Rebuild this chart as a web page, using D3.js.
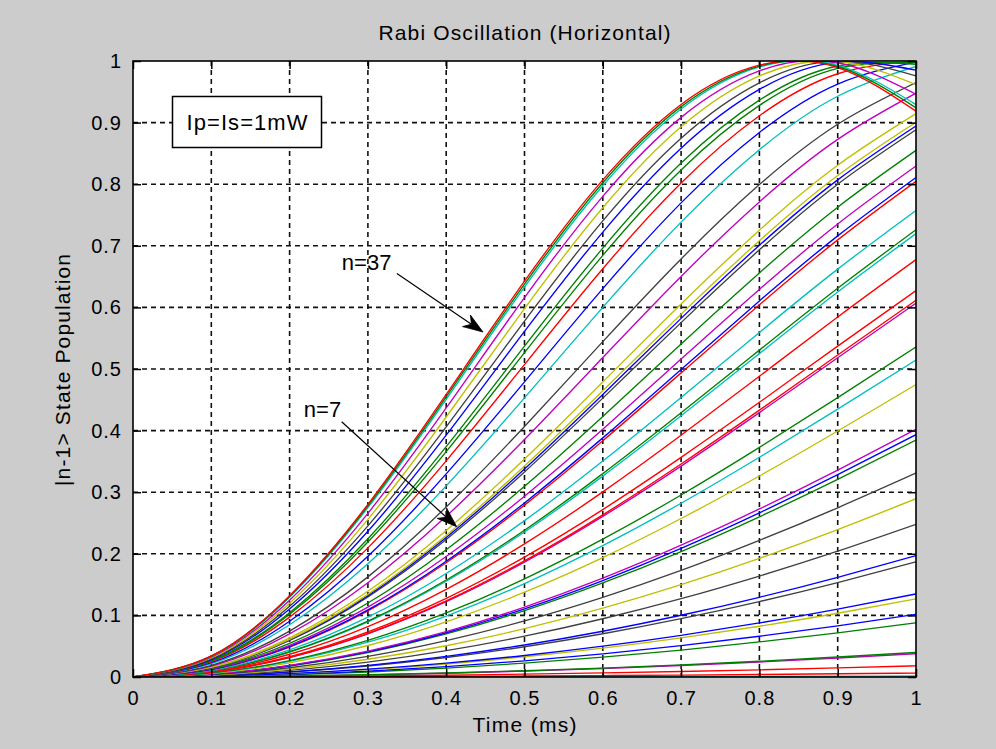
<!DOCTYPE html>
<html>
<head>
<meta charset="utf-8">
<script src="https://cdn.jsdelivr.net/npm/d3@7"></script>
<style>
  html, body { margin: 0; padding: 0; background: #cccccc; }
  svg { display: block; }
</style>
</head>
<body>
<svg id="chart" width="996" height="749"></svg>
<script>
// ---------- data ----------
const chartTitle = "Rabi Oscillation (Horizontal)";
const xAxisLabel = "Time (ms)";
const yAxisLabel = "|n-1> State Population";
const legendText = "Ip=Is=1mW";

const timeValues = [0, 0.1, 0.2, 0.3, 0.4, 0.5, 0.6, 0.7, 0.8, 0.9, 1.0];
const xTickValues = [0, 0.1, 0.2, 0.3, 0.4, 0.5, 0.6, 0.7, 0.8, 0.9, 1];
const xTickLabels = ["0", "0.1", "0.2", "0.3", "0.4", "0.5", "0.6", "0.7", "0.8", "0.9", "1"];
const yTickValues = [0, 0.1, 0.2, 0.3, 0.4, 0.5, 0.6, 0.7, 0.8, 0.9, 1];
const yTickLabels = ["0", "0.1", "0.2", "0.3", "0.4", "0.5", "0.6", "0.7", "0.8", "0.9", "1"];

// MATLAB colour codes of each curve
const seriesColors = ["c","r","r","m","g","g","b","y","b","k",
                      "b","k","y","k","g","b","m","y","c","g",
                      "m","r","r","r","c","g","c","r","b","m",
                      "g","k","b","y","y","m","k","c","b","r",
                      "g","g","b","k","y","m","c","g","r"];

// population of each curve at timeValues
const populationSeries = [
  [0,0,0.0001,0.0001,0.0003,0.0004,0.0006,0.0008,0.001,0.0013,0.0016],
  [0,0.0001,0.0003,0.0006,0.001,0.0016,0.0023,0.0031,0.0041,0.0052,0.0064],
  [0,0.0002,0.0007,0.0016,0.0029,0.0046,0.0066,0.0089,0.0116,0.0147,0.0181],
  [0,0.0004,0.0015,0.0035,0.0061,0.0096,0.0138,0.0187,0.0244,0.0308,0.0379],
  [0,0.0004,0.0016,0.0036,0.0065,0.0101,0.0145,0.0197,0.0256,0.0324,0.0399],
  [0,0.0009,0.0036,0.0081,0.0144,0.0225,0.0323,0.0437,0.0569,0.0716,0.0879],
  [0,0.0011,0.0042,0.0095,0.0168,0.0262,0.0376,0.0509,0.0661,0.0831,0.1019],
  [0,0.0013,0.0053,0.0119,0.0211,0.0328,0.0469,0.0635,0.0824,0.1035,0.1268],
  [0,0.0014,0.0056,0.0127,0.0225,0.0349,0.05,0.0677,0.0878,0.1102,0.1349],
  [0,0.002,0.008,0.0179,0.0316,0.0491,0.0702,0.0948,0.1225,0.1533,0.1869],
  [0,0.0021,0.0084,0.0189,0.0335,0.052,0.0743,0.1002,0.1294,0.1618,0.1971],
  [0,0.0027,0.0108,0.0242,0.0428,0.0663,0.0946,0.1272,0.1639,0.2042,0.2478],
  [0,0.0032,0.0128,0.0288,0.0507,0.0785,0.1117,0.1499,0.1926,0.2393,0.2894],
  [0,0.0038,0.015,0.0334,0.059,0.091,0.1293,0.1731,0.2218,0.2747,0.331],
  [0,0.0045,0.0178,0.0397,0.0699,0.1078,0.1527,0.2037,0.2601,0.3208,0.3846],
  [0,0.0046,0.0183,0.0408,0.0718,0.1106,0.1566,0.2088,0.2665,0.3284,0.3934],
  [0,0.0047,0.0188,0.0419,0.0736,0.1135,0.1605,0.214,0.2729,0.336,0.4022],
  [0,0.0058,0.0229,0.0511,0.0896,0.1376,0.1939,0.2573,0.3263,0.3993,0.4747],
  [0,0.0064,0.0254,0.0565,0.099,0.1516,0.2132,0.2821,0.3567,0.4348,0.5146],
  [0,0.0067,0.0267,0.0595,0.104,0.1593,0.2237,0.2955,0.3728,0.4536,0.5356],
  [0,0.008,0.0316,0.0701,0.1222,0.1865,0.2607,0.3424,0.4292,0.5183,0.6068],
  [0,0.008,0.0319,0.0708,0.1235,0.1885,0.2633,0.3458,0.4332,0.5228,0.6117],
  [0,0.0083,0.033,0.0733,0.1278,0.1947,0.2718,0.3565,0.4459,0.5372,0.6272],
  [0,0.0093,0.0369,0.0818,0.1423,0.2161,0.3005,0.3924,0.4882,0.5845,0.6776],
  [0,0.0102,0.0405,0.0896,0.1554,0.2353,0.3261,0.424,0.525,0.625,0.7198],
  [0,0.0104,0.041,0.0908,0.1574,0.2383,0.3301,0.4289,0.5306,0.6311,0.7261],
  [0,0.0111,0.044,0.0971,0.1681,0.2538,0.3506,0.4539,0.5593,0.6621,0.7575],
  [0,0.0123,0.0487,0.1074,0.1855,0.279,0.3835,0.4937,0.6042,0.7096,0.8047],
  [0,0.0125,0.0494,0.1089,0.188,0.2826,0.3882,0.4993,0.6105,0.7161,0.811],
  [0,0.0131,0.0515,0.1135,0.1955,0.2935,0.4022,0.5161,0.6291,0.7354,0.8295],
  [0,0.0139,0.0547,0.1201,0.2067,0.3095,0.4229,0.5406,0.656,0.7627,0.8549],
  [0,0.0151,0.0593,0.1301,0.2232,0.3329,0.4527,0.5753,0.6934,0.7999,0.8883],
  [0,0.0153,0.0603,0.1321,0.2265,0.3376,0.4587,0.5822,0.7008,0.807,0.8945],
  [0,0.0155,0.0612,0.1342,0.2298,0.3424,0.4647,0.5891,0.7081,0.8141,0.9006],
  [0,0.0161,0.0635,0.1391,0.238,0.3538,0.479,0.6056,0.7254,0.8307,0.9145],
  [0,0.0178,0.0701,0.1531,0.2608,0.3856,0.5186,0.6503,0.7712,0.8727,0.9477],
  [0,0.019,0.0746,0.1625,0.276,0.4067,0.5444,0.6786,0.7994,0.8974,0.9651],
  [0,0.0217,0.0848,0.1839,0.3103,0.4532,0.6001,0.7384,0.856,0.9428,0.9912],
  [0,0.0232,0.0906,0.196,0.3297,0.4791,0.6305,0.7697,0.884,0.9626,0.9983],
  [0,0.0249,0.0972,0.2096,0.3509,0.5071,0.6627,0.8019,0.9111,0.9793,0.9998],
  [0,0.0261,0.1018,0.2192,0.3658,0.5266,0.6845,0.8232,0.928,0.9881,0.9972],
  [0,0.0268,0.1044,0.2244,0.3739,0.5371,0.6962,0.8343,0.9365,0.9919,0.9945],
  [0,0.0284,0.1104,0.2365,0.3926,0.561,0.7223,0.8585,0.9539,0.9978,0.9851],
  [0,0.0295,0.1147,0.2453,0.406,0.5778,0.7405,0.8747,0.9646,0.9997,0.9758],
  [0,0.0309,0.1199,0.2559,0.4221,0.598,0.7617,0.8931,0.9757,0.9996,0.9616],
  [0,0.0322,0.1247,0.2657,0.4368,0.616,0.7803,0.9085,0.984,0.9971,0.9462],
  [0,0.0335,0.1294,0.2749,0.4507,0.633,0.7975,0.9221,0.9903,0.9929,0.9293],
  [0,0.0338,0.1308,0.2776,0.4547,0.6378,0.8023,0.9259,0.9918,0.9911,0.924],
  [0,0.0342,0.1321,0.2803,0.4587,0.6426,0.807,0.9295,0.9932,0.9894,0.9186]
];

// annotations: label, text position, arrow tail, arrow tip (data units)
const annotationLabels = ["n=37", "n=7"];
const annotationTextPos = [[0.2984, 0.661], [0.242, 0.4226]];
const annotationTail = [[0.337, 0.655], [0.2665, 0.4144]];
const annotationTip = [[0.447, 0.56], [0.4134, 0.244]];

// ---------- styles ----------
const colorMap = { b: "#0000ff", g: "#008000", r: "#ff0000", c: "#00bfbf",
                   m: "#bf00bf", y: "#bfbf00", k: "#404040" };
const FONT = "'Liberation Sans', Arial, Helvetica, sans-serif";

const W = 996, H = 749;
const plotL = 133, plotR = 916, plotT = 61, plotB = 677;

const svg = d3.select("#chart");
svg.append("rect").attr("x", 0).attr("y", 0).attr("width", W).attr("height", H).attr("fill", "#cccccc");

const x = d3.scaleLinear().domain([0, 1]).range([plotL, plotR]);
const y = d3.scaleLinear().domain([0, 1]).range([plotB, plotT]);

// axes background
svg.append("rect").attr("x", plotL).attr("y", plotT)
  .attr("width", plotR - plotL).attr("height", plotB - plotT).attr("fill", "#ffffff");

// grid
const grid = svg.append("g").attr("stroke", "#111").attr("stroke-width", 1.6)
  .attr("stroke-dasharray", "5,4").attr("fill", "none");
xTickValues.filter(v => v > 0 && v < 1).forEach(v => {
  grid.append("line").attr("x1", x(v)).attr("x2", x(v)).attr("y1", plotT).attr("y2", plotB);
});
yTickValues.filter(v => v > 0 && v < 1).forEach(v => {
  grid.append("line").attr("y1", y(v)).attr("y2", y(v)).attr("x1", plotL).attr("x2", plotR);
});

// curves
svg.append("defs").append("clipPath").attr("id", "plotClip")
  .append("rect").attr("x", plotL).attr("y", plotT)
  .attr("width", plotR - plotL).attr("height", plotB - plotT);

const line = d3.line()
  .x((d, i) => x(timeValues[i]))
  .y(d => y(d))
  .curve(d3.curveNatural);

svg.append("g").attr("clip-path", "url(#plotClip)")
  .selectAll("path").data(populationSeries).join("path")
  .attr("d", d => line(d))
  .attr("fill", "none")
  .attr("stroke", (d, i) => colorMap[seriesColors[i]])
  .attr("stroke-width", 1.35);

// axes (ticks inside)
function styleAxis(g) {
  g.select(".domain").remove();
  g.selectAll(".tick line").attr("stroke", "#000").attr("stroke-width", 1.5);
  g.selectAll(".tick text").attr("fill", "#000").style("font-family", FONT)
    .style("font-size", "20px").style("letter-spacing", "1px");
}
svg.append("g").attr("transform", `translate(0,${plotB})`)
  .call(d3.axisBottom(x).tickValues(xTickValues).tickFormat((d, i) => xTickLabels[i])
    .tickSizeInner(-8).tickSizeOuter(0).tickPadding(14))
  .call(styleAxis);
svg.append("g").attr("transform", `translate(0,${plotT})`)
  .call(d3.axisTop(x).tickValues(xTickValues).tickFormat("")
    .tickSizeInner(-8).tickSizeOuter(0))
  .call(styleAxis);
svg.append("g").attr("transform", `translate(${plotL},0)`)
  .call(d3.axisLeft(y).tickValues(yTickValues).tickFormat((d, i) => yTickLabels[i])
    .tickSizeInner(-8).tickSizeOuter(0).tickPadding(11))
  .call(styleAxis);
svg.append("g").attr("transform", `translate(${plotR},0)`)
  .call(d3.axisRight(y).tickValues(yTickValues).tickFormat("")
    .tickSizeInner(-8).tickSizeOuter(0))
  .call(styleAxis);

// frame
svg.append("rect").attr("x", plotL).attr("y", plotT)
  .attr("width", plotR - plotL).attr("height", plotB - plotT)
  .attr("fill", "none").attr("stroke", "#000").attr("stroke-width", 1.6);

// title and labels
svg.append("text").attr("x", (plotL + plotR) / 2).attr("y", 40)
  .attr("text-anchor", "middle").attr("textLength", 292).attr("lengthAdjust", "spacing")
  .style("font-family", FONT).style("font-size", "21px").attr("fill", "#000")
  .text(chartTitle);
svg.append("text").attr("x", (plotL + plotR) / 2).attr("y", 732)
  .attr("text-anchor", "middle").attr("textLength", 104).attr("lengthAdjust", "spacing")
  .style("font-family", FONT).style("font-size", "21px").attr("fill", "#000")
  .text(xAxisLabel);
svg.append("text").attr("transform", "translate(70,370) rotate(-90)")
  .attr("text-anchor", "middle").attr("textLength", 232).attr("lengthAdjust", "spacing")
  .style("font-family", FONT).style("font-size", "21px").attr("fill", "#000")
  .text(yAxisLabel);

// legend-like text box
svg.append("rect").attr("x", 172.5).attr("y", 96.5).attr("width", 149).attr("height", 51)
  .attr("fill", "#fff").attr("stroke", "#000").attr("stroke-width", 1.5);
svg.append("text").attr("x", 247).attr("y", 130).attr("text-anchor", "middle")
  .attr("textLength", 121).attr("lengthAdjust", "spacing")
  .style("font-family", FONT).style("font-size", "22px").attr("fill", "#000")
  .text(legendText);

// annotations with arrows
const ann = svg.append("g");
annotationLabels.forEach((lab, i) => {
  ann.append("text").attr("x", x(annotationTextPos[i][0])).attr("y", y(annotationTextPos[i][1]))
    .attr("text-anchor", "middle")
    .style("font-family", FONT).style("font-size", "22px").attr("fill", "#000")
    .text(lab);
  const x0 = x(annotationTail[i][0]), y0 = y(annotationTail[i][1]);
  const x1 = x(annotationTip[i][0]), y1 = y(annotationTip[i][1]);
  const dx = x1 - x0, dy = y1 - y0, len = Math.hypot(dx, dy);
  const ux = dx / len, uy = dy / len, px = -uy, py = ux;
  const headLen = 20, halfW = 7, notch = 14;
  ann.append("line").attr("x1", x0).attr("y1", y0)
    .attr("x2", x1 - ux * notch).attr("y2", y1 - uy * notch)
    .attr("stroke", "#000").attr("stroke-width", 1.2);
  const pts = [
    [x1, y1],
    [x1 - ux * headLen + px * halfW, y1 - uy * headLen + py * halfW],
    [x1 - ux * notch, y1 - uy * notch],
    [x1 - ux * headLen - px * halfW, y1 - uy * headLen - py * halfW]
  ];
  ann.append("path").attr("d", "M" + pts.map(p => p.join(",")).join("L") + "Z")
    .attr("fill", "#000").attr("stroke", "#000").attr("stroke-width", 0.8);
});
</script>
</body>
</html>
